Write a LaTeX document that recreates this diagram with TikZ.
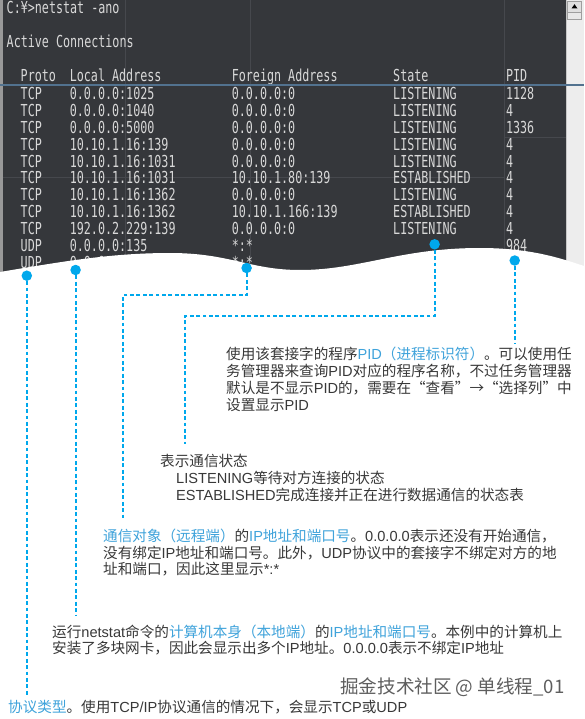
\documentclass[tikz,border=0pt]{standalone}
\usepackage{fontspec}
\setmainfont{Noto Sans CJK SC}
\newfontfamily\cjk{Noto Sans CJK SC}
\newfontfamily\latin{Liberation Sans}
\newfontfamily\term[FakeStretch=0.71]{DejaVu Sans Mono}
\newcommand\lt[1]{{\latin #1}}
\definecolor{termbg}{HTML}{35373B}
\definecolor{termfg}{HTML}{D8D8D8}
\definecolor{cyanline}{HTML}{00A8EC}
\definecolor{hlblue}{HTML}{3FA3DB}
\definecolor{txt}{HTML}{383838}
\definecolor{gridln}{HTML}{46484D}
\definecolor{selblue}{HTML}{52728F}
\definecolor{wmark}{HTML}{5E5E5E}
\begin{document}
\begin{tikzpicture}[x=1pt,y=-1pt,
  tt/.style={anchor=base west,inner sep=0pt,text=termfg,font=\term\fontsize{16.5}{17}\selectfont},
  note/.style={anchor=base west,inner sep=0pt,text=txt,font=\cjk\fontsize{14.6}{17}\selectfont},
  dot/.style={circle,fill=cyanline,inner sep=0pt,minimum size=10.5pt},
  dashline/.style={draw=cyanline,line width=2.2pt,dash pattern=on 3.8pt off 2.6pt},
  faint/.style={draw=gridln,line width=0.7pt}]
\useasboundingbox (0,0) rectangle (584,719);
\fill[white] (0,0) rectangle (584,719);
% window
\fill[black!40] (0,0) rectangle (3,290);
\fill[termbg] (3,0) rectangle (566,290);
\fill[black!7] (566,0) rectangle (584,290);
\draw[black!22,line width=0.8pt] (566.4,0) -- (566.4,290);
\filldraw[fill=black!12,draw=black!38,line width=0.6pt] (567.5,1) rectangle (581.5,12.5);
\fill[black] (571.5,8.5) -- (577.5,8.5) -- (574.5,4.2) -- cycle;
\filldraw[fill=black!9,draw=black!38,line width=0.6pt] (567.5,12.5) rectangle (581.5,19.5);
% faint lines
\draw[faint] (125,0) -- (125,290);
\draw[faint] (250,0) -- (250,290);
\draw[faint] (504,0) -- (504,290);
\draw[faint] (3,177) -- (504,177);
\draw[faint] (504,137) -- (566,137);
% terminal text
\node[tt] (cmd) at (6.5,14) {C:¥>netstat -ano};
\node[tt] (act) at (6.5,48) {Active Connections};
\node[tt] (hp) at (20.5,82) {Proto};
\node[tt] (hl) at (69.6,82) {Local Address};
\node[tt] (hf) at (231.6,82) {Foreign Address};
\node[tt] (hs) at (393,82) {State};
\node[tt] (hd) at (505.8,82) {PID};
\foreach \p/\l/\f/\s/\d [count=\i] in {
  TCP/0.0.0.0:1025/0.0.0.0:0/LISTENING/1128,
  TCP/0.0.0.0:1040/0.0.0.0:0/LISTENING/4,
  TCP/0.0.0.0:5000/0.0.0.0:0/LISTENING/1336,
  TCP/10.10.1.16:139/0.0.0.0:0/LISTENING/4,
  TCP/10.10.1.16:1031/0.0.0.0:0/LISTENING/4,
  TCP/10.10.1.16:1031/10.10.1.80:139/ESTABLISHED/4,
  TCP/10.10.1.16:1362/0.0.0.0:0/LISTENING/4,
  TCP/10.10.1.16:1362/10.10.1.166:139/ESTABLISHED/4,
  TCP/192.0.2.229:139/0.0.0.0:0/LISTENING/4,
  UDP/0.0.0.0:135/*:*/{}/984,
  UDP/0.0.0.0:445/*:*/{}/{}}{
  \pgfmathsetmacro\yy{94+16.8*(\i-1)+6}
  \node[tt] (p\i) at (20.5,\yy) {\p};
  \node[tt] (l\i) at (69.6,\yy) {\l};
  \node[tt] (f\i) at (231.6,\yy) {\f};
  \node[tt] (s\i) at (393,\yy) {\s};
  \node[tt] (d\i) at (505.8,\yy) {\d};
}
% selection line
\draw[selblue,line width=2pt] (0,84.8) -- (584,84.8);
% torn edge
\fill[white] (0,272) .. controls (60,262) and (110,253) .. (170,253)
  .. controls (230,253) and (250,270) .. (300,270)
  .. controls (360,270) and (400,248) .. (480,248)
  .. controls (530,248) and (560,258) .. (584,266)
  -- (584,300) -- (0,300) -- cycle;
% dots
\node[dot] (dproto) at (26.8,275.7) {};
\node[dot] (dlocal) at (75.6,270) {};
\node[dot] (dforeign) at (246.6,268) {};
\node[dot] (dstate) at (434.6,244.3) {};
\node[dot] (dpid) at (514.7,260.5) {};
\coordinate (eproto) at (26.8,695);
\coordinate (elocal) at (75.6,615);
\coordinate (cforeign) at (123,295);
\coordinate (eforeign) at (123,518);
\coordinate (cstate) at (185,316);
\coordinate (estate) at (185,444);
\coordinate (epid) at (514.7,343);
\draw[dashline] (dproto.south) -- (eproto);
\draw[dashline] (dlocal.south) -- (elocal);
\draw[dashline] (dforeign.south) |- (cforeign) -- (eforeign);
\draw[dashline] (dstate.south) |- (cstate) -- (estate);
\draw[dashline] (dpid.south) -- (epid);
% PID note
\node[note] (pid1) at (226,359.5) {使用该套接字的程序\textcolor{hlblue}{\lt{PID}（进程标识符）}。可以使用任};
\node[note] (pid2) at (226,376.5) {务管理器来查询\lt{PID}对应的程序名称，不过任务管理器};
\node[note] (pid3) at (226,393.5) {默认是不显示\lt{PID}的，需要在“查看”→“选择列”中};
\node[note] (pid4) at (226,410.5) {设置显示\lt{PID}};
% State note
\node[note] (st1) at (160,466.5) {表示通信状态};
\node[note] (st2) at (176,483.5) {\lt{LISTENING}等待对方连接的状态};
\node[note] (st3) at (176,500.5) {\lt{ESTABLISHED}完成连接并正在进行数据通信的状态表};
% Foreign note
\node[note] (fo1) at (103,541.5) {\textcolor{hlblue}{通信对象（远程端）}的\textcolor{hlblue}{\lt{IP}地址和端口号}。\lt{0.0.0.0}表示还没有开始通信，};
\node[note] (fo2) at (103,558.2) {没有绑定\lt{IP}地址和端口号。此外，\lt{UDP}协议中的套接字不绑定对方的地};
\node[note] (fo3) at (103,574.5) {址和端口，因此这里显示\lt{*:*}};
% Local note
\node[note] (lo1) at (52,637.5) {运行\lt{netstat}命令的\textcolor{hlblue}{计算机本身（本地端）}的\textcolor{hlblue}{\lt{IP}地址和端口号}。本例中的计算机上};
\node[note] (lo2) at (52,653.5) {安装了多块网卡，因此会显示出多个\lt{IP}地址。\lt{0.0.0.0}表示不绑定\lt{IP}地址};
% Proto note
\node[note] (pr1) at (8,712.5) {\textcolor{hlblue}{协议类型}。使用\lt{TCP/IP}协议通信的情况下，会显示\lt{TCP}或\lt{UDP}};
% watermark
\node[anchor=base west,inner sep=0pt,text=wmark,font=\cjk\fontsize{18.6}{20}\selectfont] (wm) at (340,693) {掘金技术社区 @ 单线程\_01};
\end{tikzpicture}
\end{document}
